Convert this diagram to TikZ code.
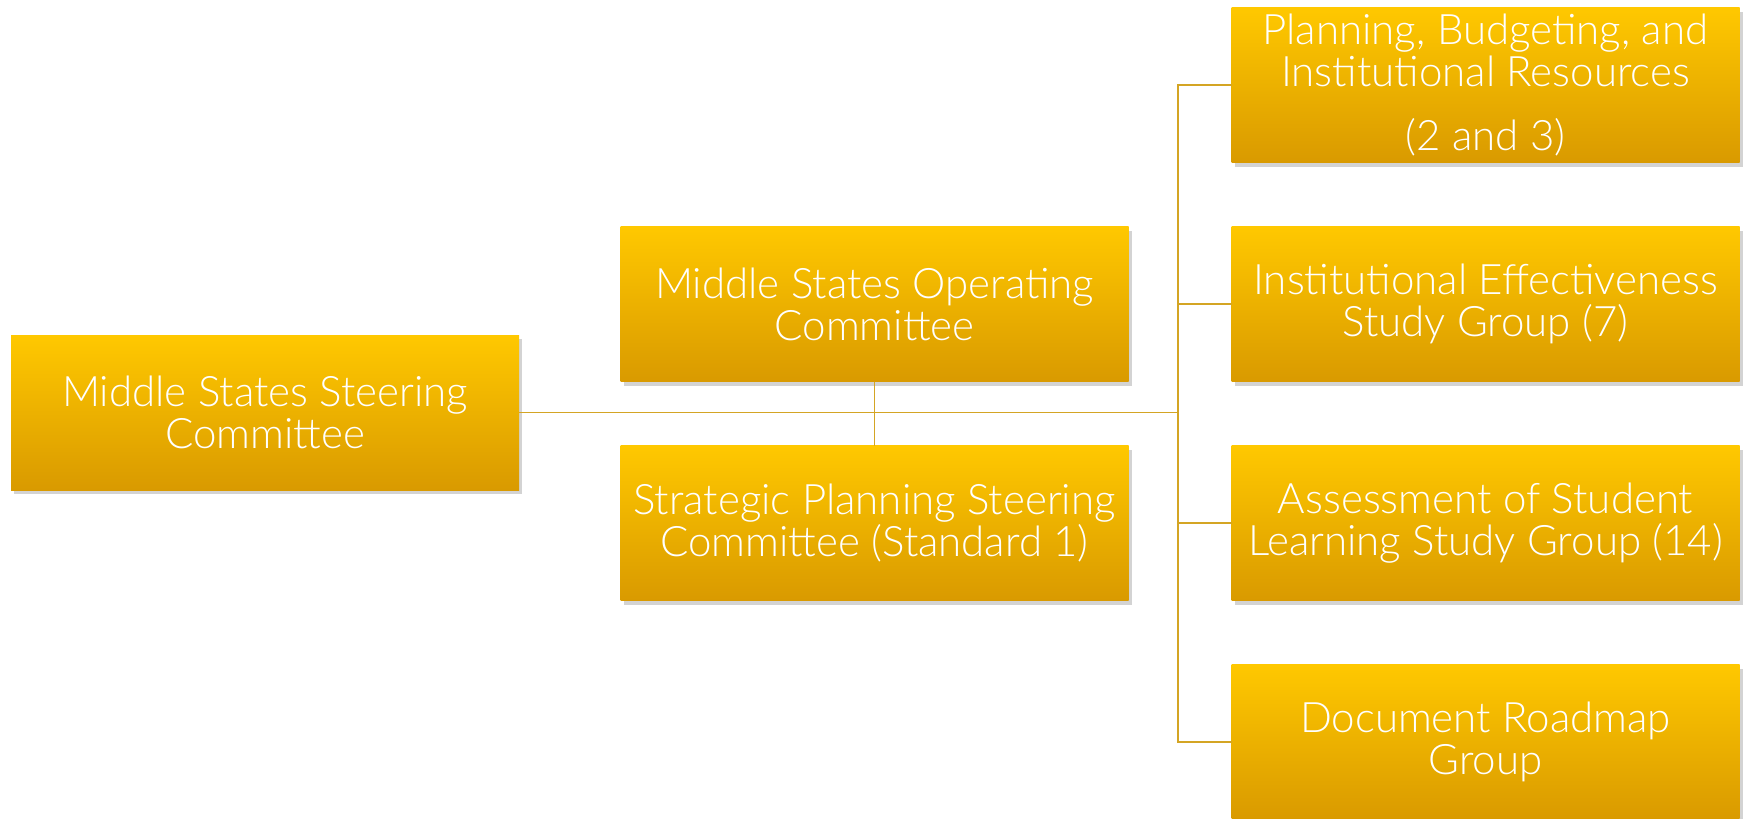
\documentclass[tikz,border=0pt]{standalone}
\usepackage{fontspec}
\IfFontExistsTF{Lato Light}{\setmainfont{Lato Light}}{\setmainfont{Lato}}
\usepackage{tikz}
\usetikzlibrary{positioning}
\usetikzlibrary{shadows}
\definecolor{boxtop}{HTML}{FFC800}
\definecolor{boxbot}{HTML}{D99A00}
\definecolor{linkgold}{HTML}{D4A524}
\tikzset{
    unit/.style={rectangle, minimum width=508pt, minimum height=155pt, inner sep=2pt, outer sep=0pt,
        top color=boxtop, bottom color=boxbot, text=white, align=center,
        font=\fontsize{42}{42}\selectfont,
        drop shadow={opacity=0.35, shadow xshift=3pt, shadow yshift=-4pt}},
    link/.style={draw=linkgold, line width=1.4pt}
}

\begin{document}
\begin{tikzpicture}[x=1pt,y=1pt]
            \useasboundingbox (0,0) rectangle (1743,-819);
            \node (steer) [unit] at (265,-412.5) {Middle States Steering\\Committee};
            \node (ops)   [unit] at (874.5,-304)  {Middle States Operating\\Committee};
            \node (strat) [unit,below=64pt of ops] {Strategic Planning Steering\\Committee (Standard 1)};
            \node (rb2)   [unit,right=103pt of ops] {Institutional Effectiveness\\Study Group (7)};
            \node (rb1)   [unit,above=64pt of rb2]  {Planning, Budgeting, and\\Institutional Resources\\[22pt](2 and 3)};
            \node (rb3)   [unit,below=64pt of rb2]  {Assessment of Student\\Learning Study Group (14)};
            \node (rb4)   [unit,below=64pt of rb3]  {Document Roadmap\\Group};

            \coordinate (hub) at (1178,-412.5);

            \draw[link] (steer.east) -- (hub);
            \draw[link] (ops) -- (strat);
            \draw[link] (rb1.west) -| (hub |- rb4.west) -- (rb4.west);
            \draw[link] (rb2.west) -- (rb2.west -| hub);
            \draw[link] (rb3.west) -- (rb3.west -| hub);
        \end{tikzpicture}
\end{document}
